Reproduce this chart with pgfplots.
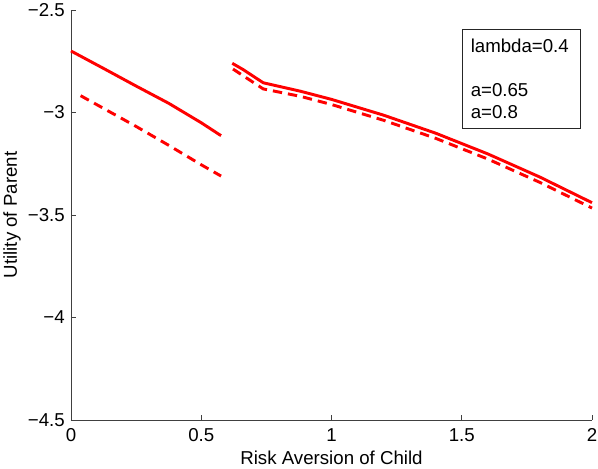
\documentclass[border=0pt]{standalone}
\usepackage{pgfplots}
\pgfplotsset{compat=1.18}
\usepackage{fontspec}
\setmainfont{Liberation Sans}
\begin{document}
\begin{tikzpicture}
\begin{axis}[
  at={(0,0)}, anchor=south west,
  scale only axis,
  width=390.75pt, height=307.5pt,
  xmin=0, xmax=2, ymin=-4.5, ymax=-2.5,
  axis x line*=bottom, axis y line*=left,
  axis line style={-, black!75, line width=0.6pt},
  tick style={black!75, line width=0.6pt},
  tick align=inside,
  major tick length=4pt,
  xtick={0,0.5,1,1.5,2},
  xticklabels={0,0.5,1,1.5,2},
  ytick={-4.5,-4,-3.5,-3,-2.5},
  yticklabels={−4.5,−4,−3.5,−3,−2.5},
  ticklabel style={font=\fontsize{14}{16}\selectfont},
  xticklabel style={anchor=center, yshift=-11.25pt},
  yticklabel style={anchor=east, xshift=-4.5pt, inner xsep=0pt},
  xlabel={Risk Aversion of Child},
  ylabel={Utility of Parent},
  label style={font=\fontsize{14}{16}\selectfont},
  xlabel style={at={(axis description cs:0.5,-0.0927)}, anchor=center},
  ylabel style={at={(axis description cs:-0.1132,0.5)}, anchor=center},
  clip=false,
]
% segment 1
\addplot[red, line width=2.2pt] coordinates {
 (0,-2.700) (0.125,-2.785) (0.25,-2.871) (0.375,-2.955) (0.5,-3.050) (0.576,-3.113)
};
\addplot[red, line width=2.2pt, dash pattern=on 7pt off 4.5pt] coordinates {
 (0.037,-2.918) (0.125,-2.980) (0.25,-3.068) (0.375,-3.160) (0.5,-3.255) (0.576,-3.310)
};
% segment 2
\addplot[red, line width=2.2pt] coordinates {
 (0.619,-2.760) (0.66,-2.790) (0.738,-2.855) (0.88,-2.896) (1.0,-2.936) (1.2,-3.013)
 (1.4,-3.101) (1.6,-3.202) (1.8,-3.315) (2.0,-3.440)
};
\addplot[red, line width=2.2pt, dash pattern=on 7pt off 4.5pt] coordinates {
 (0.622,-2.788) (0.66,-2.820) (0.738,-2.885) (0.88,-2.921) (1.0,-2.961) (1.2,-3.038)
 (1.4,-3.126) (1.6,-3.227) (1.8,-3.341) (2.0,-3.466)
};
\node[draw=black!85, line width=0.5pt, fill=white, anchor=north west,
      minimum width=88.5pt, minimum height=74pt, text width=76pt,
      inner xsep=6.5pt, align=left,
      font=\fontsize{14}{16.5}\selectfont]
  at (rel axis cs:0.750,0.954) {lambda=0.4\\ \mbox{}\\ a=0.65\\ a=0.8};
\end{axis}
\pgfresetboundingbox
\path[use as bounding box] (-53.25pt,-36pt) rectangle (395.25pt,315pt);
\end{tikzpicture}
\end{document}
